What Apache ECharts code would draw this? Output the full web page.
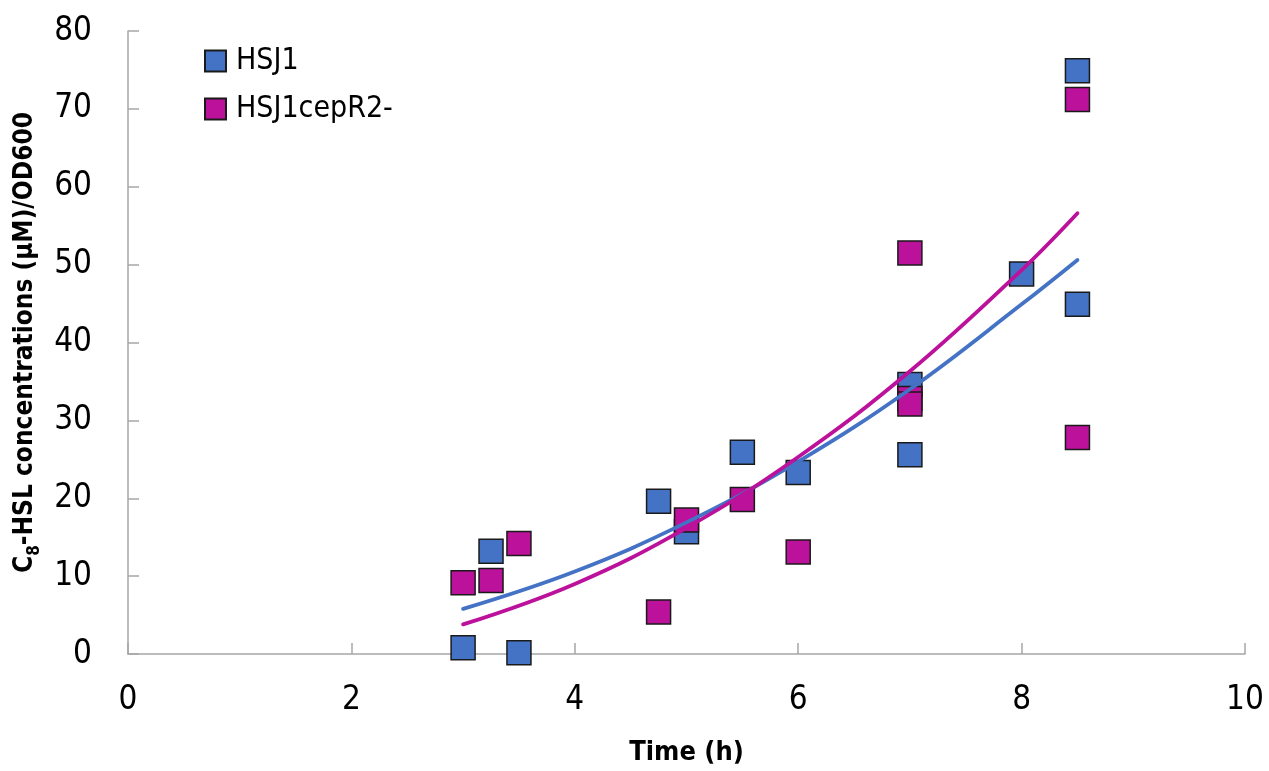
<!DOCTYPE html>
<html>
<head>
<meta charset="utf-8">
<script src="https://cdn.jsdelivr.net/npm/echarts@6/dist/echarts.min.js"></script>
<style>
html,body{margin:0;padding:0;background:#fff;}
#chart{width:1269px;height:771px;}
</style>
</head>
<body>
<div id="chart"></div>
<script>
// ---- data ----
const hsj1X = [3, 3.25, 3.5, 4.75, 5, 5.5, 6, 7, 7, 8, 8.5, 8.5];
const hsj1Y = [0.8, 13.2, 0.15, 19.6, 15.7, 25.9, 23.3, 34.6, 25.6, 48.8, 74.9, 44.9];
const cepX = [3, 3.25, 3.5, 4.75, 5, 5.5, 6, 7, 7, 7, 8.5, 8.5];
const cepY = [9.15, 9.45, 14.2, 5.4, 17.2, 19.85, 13.1, 51.5, 32.8, 32.1, 71.2, 27.8];
// trend lines as drawn in the reference
const trendX = [3, 4, 5, 6, 7, 8, 8.5];
const hsj1Trend = [5.8, 10.6, 16.9, 24.7, 34.0, 44.9, 50.6];
const cepTrend = [3.8, 9.0, 16.2, 25.3, 36.3, 49.3, 56.6];
const seriesNames = ['HSJ1', 'HSJ1cepR2-'];
const xTicks = [0, 2, 4, 6, 8, 10];
const yTicks = [0, 10, 20, 30, 40, 50, 60, 70, 80];

const zip = (a, b) => a.map((v, i) => [v, b[i]]);

const BLUE = '#4472C4';
const MAG = '#BB119B';
const FONT = "'Liberation Sans Narrow', 'DejaVu Sans Condensed', 'Liberation Sans', sans-serif";

const chart = echarts.init(document.getElementById('chart'), null, {renderer: 'canvas'});
chart.setOption({
  backgroundColor: '#ffffff',
  animation: false,
  textStyle: {fontFamily: FONT},
  grid: {left: 128, right: 24, top: 31, bottom: 115, containLabel: false},
  legend: {
    data: seriesNames,
    orient: 'vertical',
    left: 199, top: 41,
    itemWidth: 21, itemHeight: 21, itemGap: 18,
    icon: 'rect',
    textStyle: {fontSize: 30, color: '#000', fontFamily: FONT, padding: [0,0,0,5]}
  },
  xAxis: {
    type: 'value', min: 0, max: 10, interval: 2,
    name: 'Time (h)', nameLocation: 'middle', nameGap: 85,
    nameTextStyle: {fontSize: 27, fontWeight: 'bold', color: '#000', fontFamily: FONT},
    axisLine: {show: true, onZero: false, lineStyle: {color: '#A6A6A6', width: 1.5}},
    axisTick: {show: true, inside: true, length: 11, lineStyle: {color: '#A6A6A6', width: 1.5}},
    axisLabel: {fontSize: 33, color: '#000', margin: 30, fontFamily: FONT,
      formatter: v => (xTicks.indexOf(v) >= 0 ? String(v) : '')},
    splitLine: {show: false}
  },
  yAxis: {
    type: 'value', min: 0, max: 80, interval: 10,
    name: '{a|C}{s|8}{a|-HSL concentrations (μM)/OD600}',
    nameLocation: 'middle', nameGap: 80,
    nameTextStyle: {
      fontSize: 26, fontWeight: 'bold', color: '#000', fontFamily: FONT,
      rich: {
        a: {fontSize: 26, fontWeight: 'bold', color: '#000', fontFamily: FONT, lineHeight: 30, verticalAlign: 'bottom'},
        s: {fontSize: 17, fontWeight: 'bold', color: '#000', fontFamily: FONT, lineHeight: 30, verticalAlign: 'bottom', padding: [0,0,-5,0]}
      }
    },
    axisLine: {show: true, lineStyle: {color: '#A6A6A6', width: 1.5}},
    axisTick: {show: true, inside: true, length: 11, lineStyle: {color: '#A6A6A6', width: 1.5}},
    axisLabel: {fontSize: 33, color: '#000', margin: 36, fontFamily: FONT,
      formatter: v => (yTicks.indexOf(v) >= 0 ? String(v) : '')},
    splitLine: {show: false}
  },
  series: [
    {
      name: seriesNames[0], type: 'scatter', symbol: 'rect', symbolSize: 24, z: 2,
      itemStyle: {color: BLUE, borderColor: '#1a1a1a', borderWidth: 1.5, opacity: 1},
      data: zip(hsj1X, hsj1Y)
    },
    {
      name: seriesNames[1], type: 'scatter', symbol: 'rect', symbolSize: 24, z: 3,
      itemStyle: {color: MAG, borderColor: '#1a1a1a', borderWidth: 1.5, opacity: 1},
      data: zip(cepX, cepY)
    },
    {
      name: 'HSJ1 trend', type: 'line', showSymbol: false, symbol: 'none', z: 5,
      smooth: 0.4,
      lineStyle: {color: BLUE, width: 3.8, cap: 'round'},
      data: zip(trendX, hsj1Trend)
    },
    {
      name: 'HSJ1cepR2- trend', type: 'line', showSymbol: false, symbol: 'none', z: 6,
      smooth: 0.4,
      lineStyle: {color: MAG, width: 3.8, cap: 'round'},
      data: zip(trendX, cepTrend)
    }
  ]
});
</script>
</body>
</html>
